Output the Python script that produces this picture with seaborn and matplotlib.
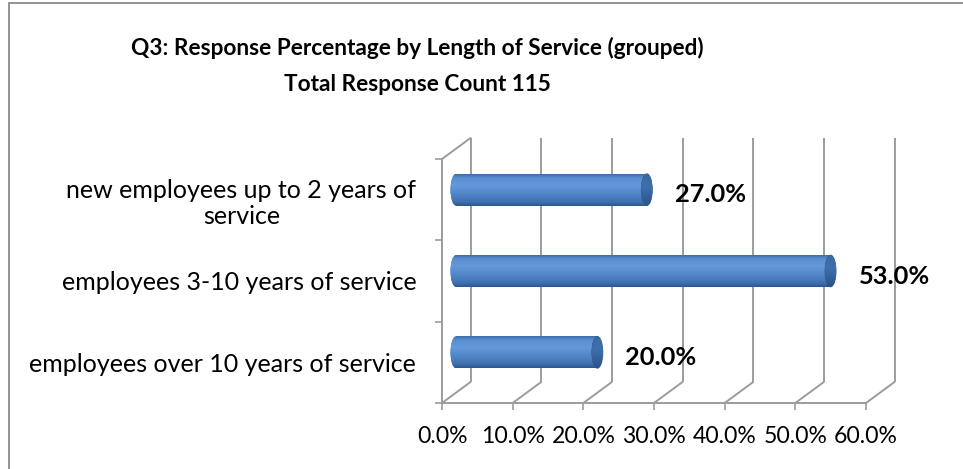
import numpy as np
import pandas as pd
import matplotlib
matplotlib.use("Agg")
import matplotlib.pyplot as plt
import seaborn as sns
from matplotlib import transforms as mtransforms
from matplotlib.patches import Ellipse, Rectangle, ConnectionPatch
from matplotlib.colors import LinearSegmentedColormap
from matplotlib import font_manager

# ---------------- data ----------------
categories = [
    "new employees up to 2 years of\nservice",
    "employees 3-10 years of service",
    "employees over 10 years of service",
]
percentages = [27.0, 53.0, 20.0]
tick_values = [0, 10, 20, 30, 40, 50, 60]
tick_labels = ["0.0%", "10.0%", "20.0%", "30.0%", "40.0%", "50.0%", "60.0%"]
title_line1 = "Q3: Response Percentage by Length of Service (grouped)"
title_line2 = "Total Response Count 115"

# ---------------- style ----------------
sns.set_theme(style="white")
installed = {f.name for f in font_manager.fontManager.ttflist}
font = "Liberation Sans Narrow" if "Liberation Sans Narrow" in installed else "Lato"
plt.rcParams["font.family"] = [font, "DejaVu Sans"]

W, H = 963, 469
DPI = 100
GRID = "#9C9C9C"
fig = plt.figure(figsize=(W / DPI, H / DPI), dpi=DPI)
fig.patch.set_facecolor("white")

# front plane of the 3-D box
ax = fig.add_axes([442 / W, 1 - 403 / H, (866 - 442) / W, (403 - 159) / H])
ax.set_facecolor("none")

df = pd.DataFrame({"cat": categories, "pct": percentages})
sns.barplot(data=df, x="pct", y="cat", orient="h", width=0.39,
            color="#4F81BD", ax=ax, saturation=1)
bar_patches = [p for p in ax.patches if isinstance(p, Rectangle)]
ax.set_xlim(0, 60)
ax.set_ylim(2.5, -0.5)


def px_off(dx, dy):
    return mtransforms.ScaledTranslation(dx / DPI, dy / DPI, fig.dpi_scale_trans)


back_x = ax.get_xaxis_transform() + px_off(28.5, 21)
front_x = ax.get_xaxis_transform()
mid = ax.transData + px_off(14, 10)

# back wall gridlines
for v in tick_values:
    ax.plot([v, v], [0, 1], transform=back_x, color=GRID, lw=1.4,
            clip_on=False, zorder=0.5, solid_capstyle="butt")
    # floor diagonals
    cp = ConnectionPatch(xyA=(v, 0), coordsA=front_x, xyB=(v, 0), coordsB=back_x,
                         color=GRID, lw=1.4, zorder=0.5)
    ax.add_artist(cp)
# left wall top diagonal
ax.add_artist(ConnectionPatch(xyA=(0, 1), coordsA=front_x, xyB=(0, 1), coordsB=back_x,
                              color=GRID, lw=1.4, zorder=0.5))

# spines
for s in ["top", "right"]:
    ax.spines[s].set_visible(False)
for s in ["left", "bottom"]:
    ax.spines[s].set_color(GRID)
    ax.spines[s].set_linewidth(1.4)
    ax.spines[s].set_zorder(0.5)

# cylinder look for bars
body_cmap = LinearSegmentedColormap.from_list(
    "body", [(0, "#3D6DA9"), (0.12, "#5A8FD2"), (0.35, "#6399DB"),
             (0.65, "#4F84C6"), (0.88, "#3F6FAE"), (1.0, "#2B558C")])
cap_cmap = LinearSegmentedColormap.from_list(
    "cap", [(0, "#3A69A3"), (0.4, "#3F70AC"), (1.0, "#2A5287")])
grad = np.linspace(0, 1, 128).reshape(-1, 1)
ew = 11 / (424 / 60)  # ellipse width in data units

for patch in bar_patches:
    x0 = patch.get_x()
    w = patch.get_width()
    y0 = patch.get_y()
    h = patch.get_height()
    yc = y0 + h / 2
    patch.set_transform(mid)
    patch.set_edgecolor("none")
    patch.set_zorder(2)
    left = Ellipse((x0, yc), ew, h, transform=mid, facecolor="#4F81BD",
                   edgecolor="none", zorder=2)
    ax.add_patch(left)
    for clip in (patch, left):
        im = ax.imshow(grad, cmap=body_cmap, aspect="auto", origin="upper",
                       extent=(x0 - ew, x0 + w, y0 + h, y0), zorder=2.1,
                       interpolation="bilinear")
        im.set_transform(mid)
        im.set_clip_path(clip)
    cap = Ellipse((x0 + w, yc), ew, h, transform=mid, facecolor="#3A69A3",
                  edgecolor="#2E5A92", lw=0.6, zorder=2.2)
    ax.add_patch(cap)
    im = ax.imshow(grad, cmap=cap_cmap, aspect="auto", origin="upper",
                   extent=(x0 + w - ew, x0 + w + ew, y0 + h, y0), zorder=2.3,
                   interpolation="bilinear")
    im.set_transform(mid)
    im.set_clip_path(cap)

ax.set_xlim(0, 60)
ax.set_ylim(2.5, -0.5)

# ticks
ax.set_xticks(tick_values)
ax.set_xticklabels(tick_labels)
ax.set_yticks(range(len(categories)))
ax.set_yticklabels(categories)
ax.set_yticks([-0.5, 0.5, 1.5, 2.5], minor=True)
ax.tick_params(axis="x", which="major", length=5, width=1.2, color=GRID,
               direction="out", pad=11.5, labelsize=16, labelcolor="black", bottom=True)
ax.tick_params(axis="y", which="major", length=0, pad=18.5, labelsize=16,
               labelcolor="black", left=True)
ax.tick_params(axis="y", which="minor", length=5, width=1.2, color=GRID,
               direction="out", left=True)
for t in ax.get_yticklabels():
    t.set_multialignment("center")
ax.set_xlabel("")
ax.set_ylabel("")

# data labels
labels = []
for i, v in enumerate(percentages):
    t = ax.annotate(f"{v:.1f}%", xy=(v, i), xytext=(42, 5), textcoords="offset pixels",
                    ha="left", va="center", fontsize=16, fontweight="bold",
                    color="black", zorder=5)
    labels.append(t)

# title
t1 = fig.text(417 / W, 1 - 55 / H, title_line1, ha="center", va="baseline",
              fontsize=18, fontweight="bold", color="black")
t2 = fig.text(417 / W, 1 - 91 / H, title_line2, ha="center", va="baseline",
              fontsize=18, fontweight="bold", color="black")

# chart border (left and top edges visible)
fig.patches.append(Rectangle((8.5 / W, -0.2), 2.0, 1.2 - 3.5 / H, transform=fig.transFigure,
                             fill=False, edgecolor="#8A8A8A", lw=1.3))

# ---- fit font sizes to the reference text widths ----
fig.canvas.draw()
r = fig.canvas.get_renderer()


def scale_for(textobj, target):
    return target / textobj.get_window_extent(r).width


s_title = scale_for(t1, 572)
t1.set_fontsize(t1.get_fontsize() * s_title)
t2.set_fontsize(t2.get_fontsize() * s_title)

s_y = scale_for(ax.get_yticklabels()[2], 388)
ax.tick_params(axis="y", which="major", labelsize=16 * s_y)
s_x = scale_for(ax.get_xticklabels()[1], 64)
ax.tick_params(axis="x", which="major", labelsize=16 * s_x)
s_d = scale_for(labels[0], 71)
for t in labels:
    t.set_fontsize(16 * s_d)

fig.savefig("out.png", dpi=DPI, facecolor="white")
